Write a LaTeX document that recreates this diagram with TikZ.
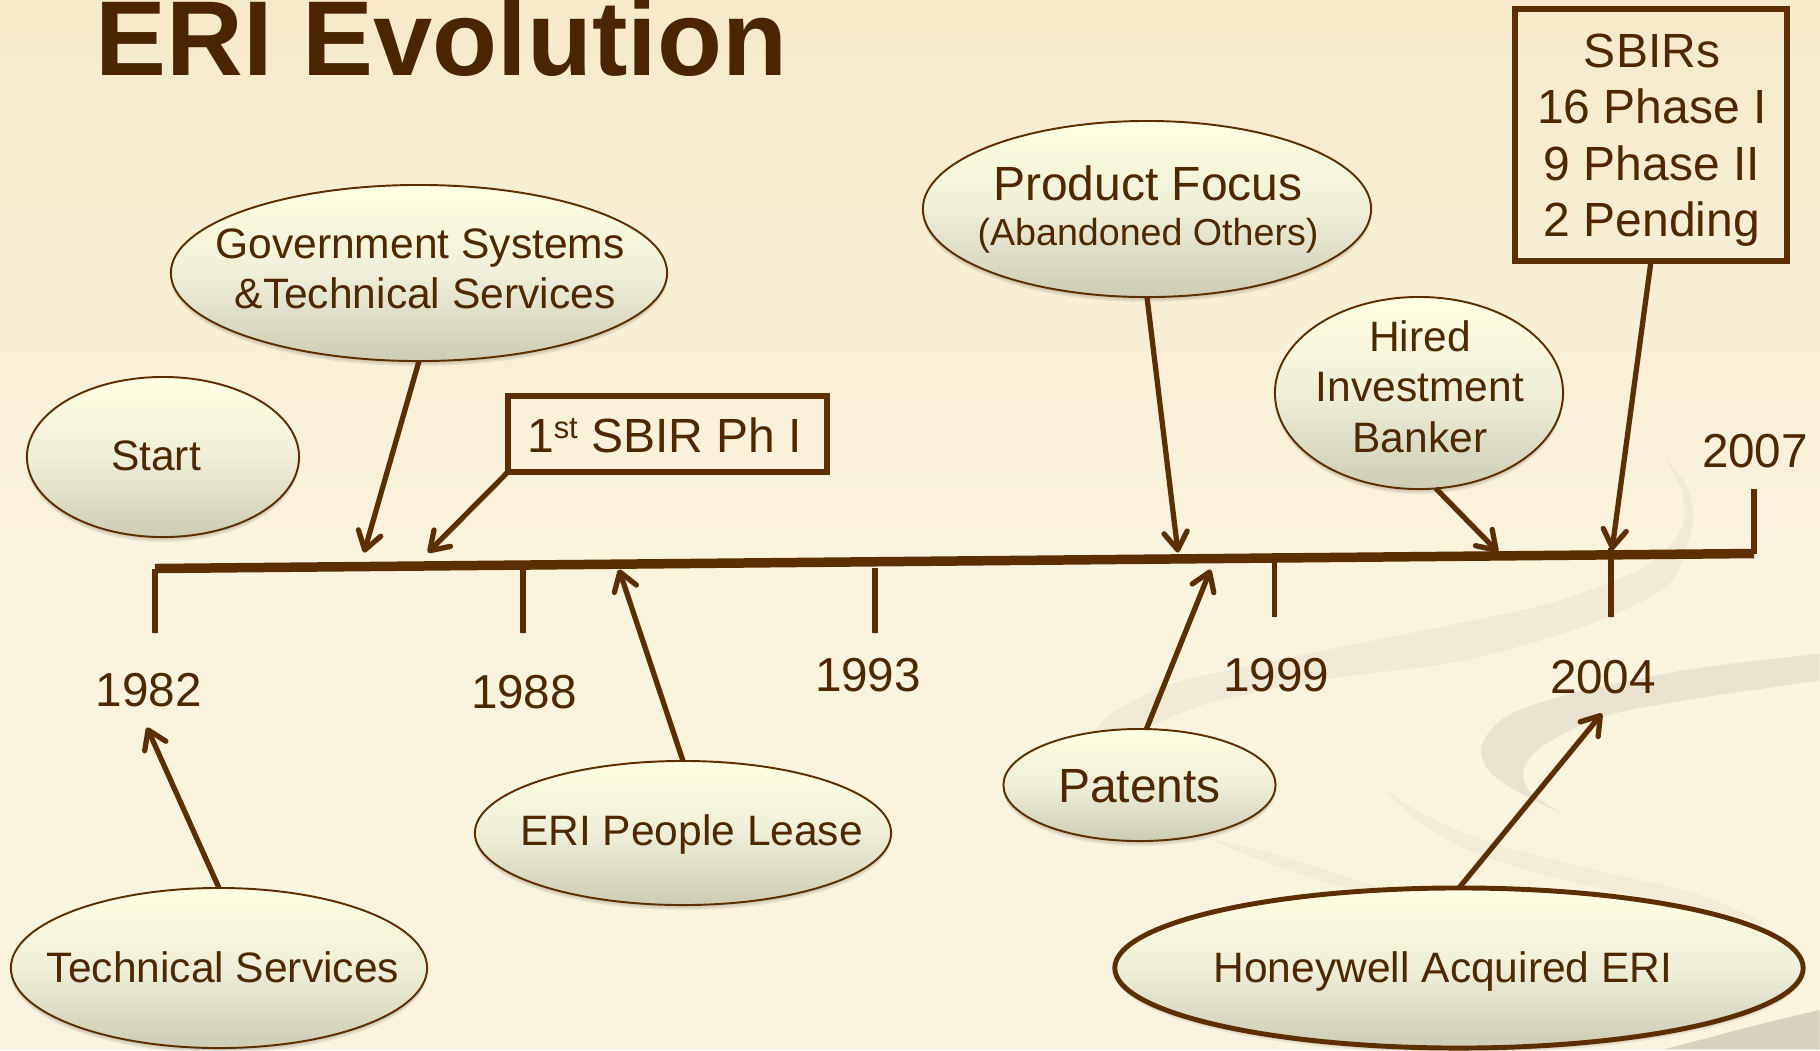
\documentclass[tikz,border=0pt]{standalone}
\usepackage{fontspec}
\setmainfont{Liberation Sans}
\usetikzlibrary{shapes.geometric,arrows.meta}
\definecolor{ink}{HTML}{4F2800}
\definecolor{titleink}{HTML}{4A2500}
\definecolor{rule}{HTML}{5C2E00}
\definecolor{bgtop}{HTML}{F5E7C5}
\definecolor{bgbot}{HTML}{FAF3DE}
\definecolor{elltop}{HTML}{FFFFE2}
\definecolor{ellmid}{HTML}{EFEFD9}
\definecolor{ellbot}{HTML}{CDCDB6}
\newlength\pxu
\setlength\pxu{0.01cm}
% text placed dx px right of the node centre, first baseline dy px above it
\newcommand\placetext[3]{\smash{\raisebox{#2\pxu}{\makebox[0pt]{\hspace*{#1\pxu}\hspace*{#1\pxu}\begin{tabular}[t]{@{}c@{}}#3\end{tabular}}}}}
\newcommand\supst[1]{\raisebox{13.4\pxu}{\fontsize{8.8}{10}\selectfont #1}}
\tikzset{
  x=0.01cm,y=-0.01cm,
  softshadow/.style={
    preaction={fill=black,opacity=.06,transform canvas={yshift=-0.4pt}},
    preaction={fill=black,opacity=.07,transform canvas={yshift=-0.9pt}},
    preaction={fill=black,opacity=.07,transform canvas={yshift=-1.4pt}}},
  ell/.style={ellipse,softshadow,draw=rule,line width=.55pt,inner sep=0pt,outer sep=0pt,
    top color=elltop,bottom color=ellbot,middle color=ellmid,text=ink},
  boxnode/.style={rectangle,draw=rule,line width=1.6pt,inner sep=0pt,outer sep=0pt,text=ink},
  year/.style={text=ink,inner sep=0pt,anchor=base,font=\fontsize{13.55}{15}\selectfont},
  conn/.style={draw=rule,line width=1.5pt,-{Straight Barb[length=5pt,width=6.6pt,round]},
    preaction={draw=black,opacity=.10,transform canvas={yshift=-0.7pt}}},
  tick/.style={draw=rule,line width=1.5pt,
    preaction={draw=black,opacity=.10,transform canvas={yshift=-0.7pt}}},
  axisline/.style={draw=rule,line width=2.7pt,
    preaction={draw=black,opacity=.12,transform canvas={yshift=-0.9pt}}},
  swoosh/.style={fill=#1,draw=none},
  txtA/.style={font=\fontsize{12.1}{14.45}\selectfont},
  txtB/.style={font=\fontsize{13.65}{16.07}\selectfont},
  txtC/.style={font=\fontsize{13.65}{13.04}\selectfont}
}
\begin{document}
\begin{tikzpicture}
\useasboundingbox (0,0) rectangle (1820,1050);
\fill[bgbot] (0,0) rectangle (1820,1050);
\shade[top color=bgtop,bottom color=bgbot,shading angle=0] (0,-150) rectangle (1820,560);
\begin{scope}[shift={(910,525)},x=0.005804cm,y=-0.003348cm]
  \fill[swoosh=bgbot!96!black] plot[smooth] coordinates {(320,610)(350,560)(460,470)(700,380)(900,310)(1100,235)(1250,140)(1305,70)(1332,0)(1330,-100)(1300,-203)}
     -- plot[smooth] coordinates {(1300,-203)(1338,-120)(1350,-30)(1340,60)(1300,190)(1150,310)(940,410)(720,460)(520,530)(430,590)(400,610)} -- cycle;
  \fill[swoosh=bgbot!93!black] plot[smooth] coordinates {(1568,385)(1350,430)(1150,500)(1030,570)(985,660)(1000,740)(1060,810)(1120,860)}
     -- plot[smooth] coordinates {(1120,860)(1065,790)(1060,720)(1100,650)(1200,570)(1350,520)(1568,465)} -- cycle;
  \fill[swoosh=bgbot!97!black] plot[smooth] coordinates {(810,780)(860,840)(940,910)(1040,970)(1200,1040)(1350,1100)(1450,1170)(1480,1200)}
     -- plot[smooth] coordinates {(1480,1200)(1400,1160)(1200,1090)(1060,1030)(960,970)(880,890)(810,780)} -- cycle;
  \fill[swoosh=bgbot!97!black] plot[smooth] coordinates {(520,940)(640,990)(810,1085)}
     -- plot[smooth] coordinates {(810,1085)(760,1090)(600,1000)(520,940)} -- cycle;
  \fill[swoosh=bgbot!86!black] plot[smooth] coordinates {(1568,1450)(1450,1500)(1300,1568)} -- (1568,1568) -- cycle;
\end{scope}

\node[text=titleink,inner sep=0pt,anchor=base west,font=\bfseries\fontsize{30.25}{32}\selectfont] (title) at (95,75) {ERI Evolution};

% timeline
\coordinate (a0) at (155,568.5);
\coordinate (a1) at (1754,553.5);
\coordinate (t82) at (155,633);
\coordinate (s88) at (523,568); \coordinate (t88) at (523,633);
\coordinate (s93) at (875,568); \coordinate (t93) at (875,633);
\coordinate (s99) at (1274.5,553); \coordinate (t99) at (1274.5,617);
\coordinate (s04) at (1611,548); \coordinate (t04) at (1611,617);
\coordinate (t07) at (1754,489);
\draw[tick] (a0) -- (t82);
\draw[tick] (s88) -- (t88);
\draw[tick] (s93) -- (t93);
\draw[tick] (s99) -- (t99);
\draw[tick] (s04) -- (t04);
\draw[tick] (a1) -- (t07);
\draw[axisline] (a0) -- (a1);

% years
\node[year] (y82) at (149,706) {1982};
\node[year] (y88) at (524,708) {1988};
\node[year] (y93) at (868,691) {1993};
\node[year] (y99) at (1276.5,691) {1999};
\node[year] (y04) at (1603,693) {2004};
\node[year] (y07) at (1755,467) {2007};

% ellipses
\node[ell,txtA,minimum width=4.96cm,minimum height=1.76cm] (gov) at (419,273) {\placetext{1}{15}{Government Systems\\\hspace*{10\pxu}\&Technical Services}};
\node[ell,txtA,minimum width=2.72cm,minimum height=1.60cm] (start) at (163,457) {\placetext{-7}{-13}{Start}};
\node[ell,txtC,minimum width=4.48cm,minimum height=1.76cm] (product) at (1147,209) {\placetext{1}{9}{Product Focus\\\fontsize{10.7}{13}\selectfont (Abandoned Others)}};
\node[ell,txtA,minimum width=2.88cm,minimum height=1.92cm] (hired) at (1419,393) {\placetext{1}{42}{Hired\\Investment\\Banker}};
\node[ell,txtA,minimum width=4.16cm,minimum height=1.60cm] (tech) at (219,968) {\placetext{4}{-14}{Technical Services}};
\node[ell,txtA,minimum width=4.16cm,minimum height=1.44cm] (people) at (683,833) {\placetext{8.5}{-12}{ERI People Lease}};
\node[ell,txtB,minimum width=2.72cm,minimum height=1.12cm] (patents) at (1139.5,785) {\placetext{0}{-17}{Patents}};
\node[ell,txtA,line width=1.4pt,minimum width=6.88cm,minimum height=1.60cm] (honey) at (1459,968) {\placetext{-16}{-14}{Honeywell Acquired ERI}};

% boxes
\node[boxnode,txtB,minimum width=3.19cm,minimum height=.76cm] (sbir1) at (667.5,434) {\placetext{-3}{-18}{1\supst{st} SBIR Ph I}};
\node[boxnode,txtB,minimum width=2.72cm,minimum height=2.52cm] (sbirs) at (1651,135) {\placetext{1}{68}{SBIRs\\16 Phase I\\9 Phase II\\2 Pending}};

% free arrow ends
\coordinate (e1) at (364,552.5);
\coordinate (e2) at (428,552.5);
\coordinate (e3) at (619,569.5);
\coordinate (e4) at (147,727.5);
\coordinate (e5) at (1178,552.5);
\coordinate (e6) at (1498,552);
\coordinate (e7) at (1612,550);
\coordinate (e8) at (1210.6,569.5);
\coordinate (e9) at (1602,713.5);
\draw[conn] (gov.south) -- (e1);
\draw[conn] (sbir1.south west) -- (e2);
\draw[conn] (people.north) -- (e3);
\draw[conn] (tech.north) -- (e4);
\draw[conn] (product.south) -- (e5);
\draw[conn] (hired.280) -- (e6);
\draw[conn] (sbirs.south) -- (e7);
\draw[conn] (patents.83) -- (e8);
\draw[conn] (honey.north) -- (e9);
\end{tikzpicture}
\end{document}
